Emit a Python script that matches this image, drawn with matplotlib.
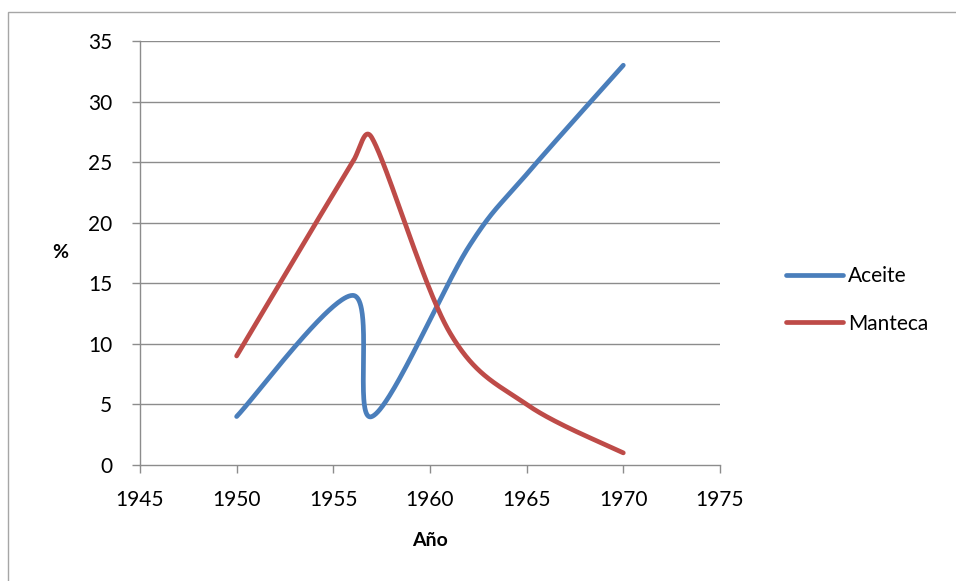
import matplotlib.pyplot as plt
import numpy as np
from matplotlib.lines import Line2D
from matplotlib.patches import Rectangle

plt.rcParams['font.family'] = ['Lato', 'DejaVu Sans']

# Data
aceite_years = [1950, 1956, 1957, 1962, 1965, 1970]
aceite_vals = [4, 14, 4, 18, 24, 33]
manteca_years = [1950, 1956, 1957, 1961, 1965, 1970]
manteca_vals = [9, 25, 27, 11, 5, 1]

x_ticks = [1945, 1950, 1955, 1960, 1965, 1970, 1975]
y_ticks = [0, 5, 10, 15, 20, 25, 30, 35]

blue = '#4A7EBB'
red = '#BE4B48'
grid_gray = '#8C8C8C'


def smooth(xs, ys, xlim, ylim, w, h, n=80):
    # Excel-like smoothed line: bezier segments, control arms capped at half segment
    px = (np.array(xs, float) - xlim[0]) / (xlim[1] - xlim[0]) * w
    py = (np.array(ys, float) - ylim[0]) / (ylim[1] - ylim[0]) * h
    pts = np.column_stack([px, py])
    f = 1 / 6.0
    out = []
    for i in range(len(pts) - 1):
        p0 = pts[i - 1] if i > 0 else pts[i]
        p1 = pts[i]
        p2 = pts[i + 1]
        p3 = pts[i + 2] if i + 2 < len(pts) else pts[i + 1]
        d12 = np.hypot(*(p2 - p1))
        d02 = np.hypot(*(p2 - p0))
        d13 = np.hypot(*(p3 - p1))
        f1 = f if f * d02 <= d12 / 2 else d12 / (2 * d02)
        f2 = f if f * d13 <= d12 / 2 else d12 / (2 * d13)
        c1 = p1 + f1 * (p2 - p0)
        c2 = p2 - f2 * (p3 - p1)
        t = np.linspace(0, 1, n)[:, None]
        seg = ((1 - t) ** 3) * p1 + 3 * ((1 - t) ** 2) * t * c1 + 3 * (1 - t) * t ** 2 * c2 + t ** 3 * p2
        out.append(seg if i == 0 else seg[1:])
    out = np.vstack(out)
    sx = out[:, 0] / w * (xlim[1] - xlim[0]) + xlim[0]
    sy = out[:, 1] / h * (ylim[1] - ylim[0]) + ylim[0]
    return sx, sy


fig = plt.figure(figsize=(9.56, 5.81), dpi=100)
# chart area border (only left and top edges fall inside the image)
fig.patches.append(Rectangle((8 / 956, -0.05), 1.2, 0.05 + (1 - 12 / 581),
                             transform=fig.transFigure, fill=False,
                             edgecolor='#A6A6A6', linewidth=1.0))
ax = fig.add_axes([0.1464, 0.1997, 0.6067, 0.7297])

xlim = (1945, 1975)
ylim = (0, 35)
w, h = 580, 424

for yv in y_ticks[1:]:
    ax.axhline(yv, color=grid_gray, linewidth=1.0, zorder=1)

sx, sy = smooth(aceite_years, aceite_vals, xlim, ylim, w, h)
ax.plot(sx, sy, color=blue, linewidth=3.4, solid_capstyle='round', zorder=3)
sx, sy = smooth(manteca_years, manteca_vals, xlim, ylim, w, h)
ax.plot(sx, sy, color=red, linewidth=3.4, solid_capstyle='round', zorder=3)

ax.set_xlim(*xlim)
ax.set_ylim(*ylim)
ax.set_xticks(x_ticks)
ax.set_yticks(y_ticks)
for s in ['top', 'right']:
    ax.spines[s].set_visible(False)
for s in ['left', 'bottom']:
    ax.spines[s].set_color(grid_gray)
    ax.spines[s].set_linewidth(1.0)
ax.tick_params(axis='both', colors=grid_gray, labelcolor='black', labelsize=15,
               length=6, width=1.0, direction='out')
ax.tick_params(axis='y', pad=14)
ax.tick_params(axis='x', pad=12)

ax.set_xlabel('Año', fontsize=14, fontweight='bold', labelpad=16)
ax.set_ylabel('%', fontsize=14, fontweight='bold', rotation=0, labelpad=20, va='center')

handles = [Line2D([], [], color=blue, linewidth=3.4, solid_capstyle='round'),
           Line2D([], [], color=red, linewidth=3.4, solid_capstyle='round')]
fig.legend(handles, ['Aceite', 'Manteca'], loc='center left',
           bbox_to_anchor=(0.803, 0.4836), frameon=False, fontsize=15,
           handlelength=2.7, handletextpad=0.25, labelspacing=1.3)

fig.savefig('out.png', dpi=100)
